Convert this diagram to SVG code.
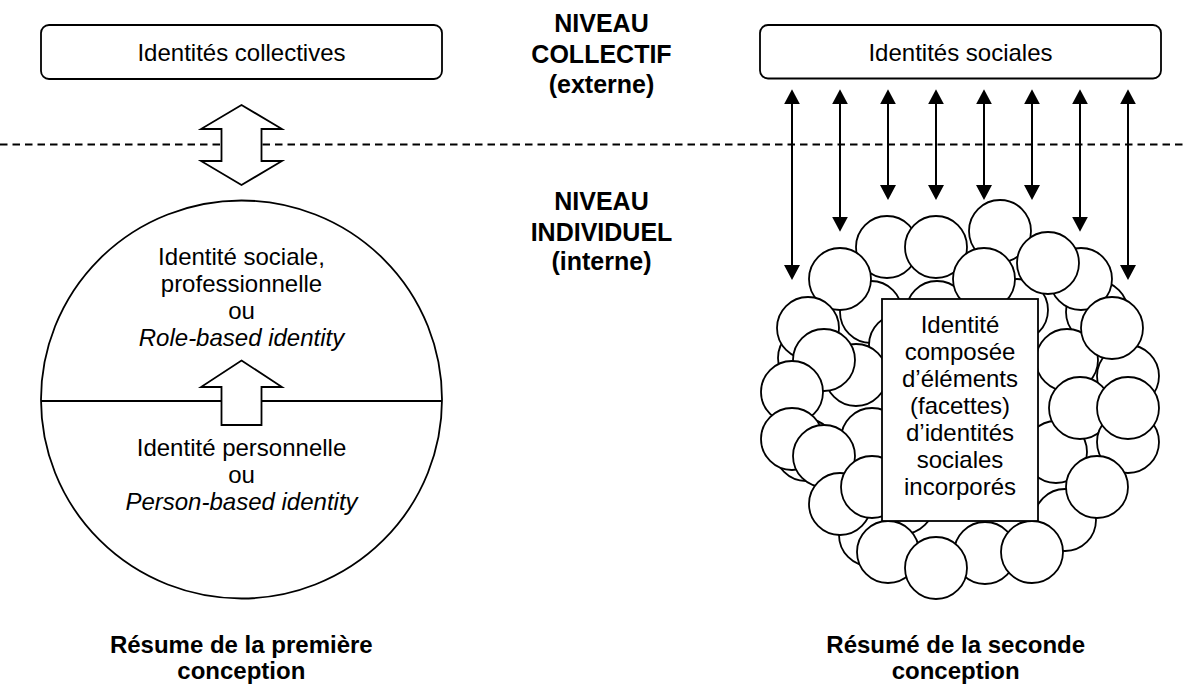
<svg xmlns="http://www.w3.org/2000/svg" width="1186" height="686" viewBox="0 0 1186 686">
<defs>
<style>
.t{font-family:"Liberation Sans",Arial,Helvetica,sans-serif;font-size:24px;fill:#000;text-anchor:middle}
.b{font-weight:bold}
.h{font-size:25px}
.i{font-style:italic}
.box{fill:#fff;stroke:#000;stroke-width:1.8}
.bub{fill:#fff;stroke:#000;stroke-width:1.8}
.ar{stroke:#000;stroke-width:2;fill:none}
.hollow{fill:#fff;stroke:#000;stroke-width:1.8;stroke-linejoin:miter}
.dash{stroke:#000;stroke-width:1.8;stroke-dasharray:7.5 5;fill:none}
</style>
<marker id="ah" viewBox="0 0 15 16" refX="5" refY="8" markerWidth="15" markerHeight="16" markerUnits="userSpaceOnUse" orient="auto-start-reverse"><path d="M0,0L15,8L0,16z" fill="#000"/></marker>
</defs>
<rect width="1186" height="686" fill="#fff"/>

<g id="divider"><line class="dash" x1="0" y1="144.5" x2="1186" y2="144.5"/></g>

<g id="level-labels">
<text class="t b h" x="601.5" y="31.7">NIVEAU</text>
<text class="t b h" x="601.5" y="63">COLLECTIF</text>
<text class="t b h" x="601.5" y="93">(externe)</text>
<text class="t b h" x="601.5" y="210">NIVEAU</text>
<text class="t b h" x="601.5" y="240.5">INDIVIDUEL</text>
<text class="t b h" x="601.5" y="270">(interne)</text>
</g>

<g id="node-collectives">
<rect class="box" x="41" y="25" width="401" height="54" rx="8"/>
<text class="t" x="241.5" y="61">Identités collectives</text>
</g>

<g id="node-sociales">
<rect class="box" x="760" y="25" width="401" height="53.5" rx="8"/>
<text class="t" x="960.5" y="61">Identités sociales</text>
</g>

<g id="node-first-conception">
<ellipse class="box" cx="241.5" cy="399.5" rx="200.5" ry="199"/>
<line x1="41" y1="401" x2="442" y2="401" stroke="#000" stroke-width="1.8"/>
<text class="t" x="241.5" y="265">Identité sociale,</text>
<text class="t" x="241.5" y="292">professionnelle</text>
<text class="t" x="241.5" y="319">ou</text>
<text class="t i" x="241.5" y="346">Role-based identity</text>
<text class="t" x="241.5" y="456">Identité personnelle</text>
<text class="t" x="241.5" y="483">ou</text>
<text class="t i" x="241.5" y="510">Person-based identity</text>
</g>

<g id="node-cluster">
<g id="facets">
<circle class="bub" cx="871" cy="312" r="31"/>
<circle class="bub" cx="937" cy="312" r="31"/>
<circle class="bub" cx="1017" cy="310" r="31"/>
<circle class="bub" cx="1097" cy="312" r="31"/>
<circle class="bub" cx="900" cy="345" r="31"/>
<circle class="bub" cx="809" cy="358" r="31"/>
<circle class="bub" cx="856" cy="375" r="31"/>
<circle class="bub" cx="1067" cy="360" r="31"/>
<circle class="bub" cx="1128" cy="376" r="31"/>
<circle class="bub" cx="903" cy="503" r="31"/>
<circle class="bub" cx="870" cy="535" r="31"/>
<circle class="bub" cx="985" cy="553" r="31"/>
<circle class="bub" cx="806" cy="450" r="31"/>
<circle class="bub" cx="1056" cy="452" r="31"/>
<circle class="bub" cx="1065" cy="520" r="31"/>
<circle class="bub" cx="1081" cy="279" r="31"/>
<circle class="bub" cx="887" cy="247" r="31"/>
<circle class="bub" cx="936" cy="247" r="31"/>
<circle class="bub" cx="1000" cy="231" r="31"/>
<circle class="bub" cx="1048" cy="263" r="31"/>
<circle class="bub" cx="840" cy="279" r="31"/>
<circle class="bub" cx="984" cy="279" r="31"/>
<circle class="bub" cx="1112" cy="328" r="31"/>
<circle class="bub" cx="808" cy="328" r="31"/>
<circle class="bub" cx="824" cy="360" r="31"/>
<circle class="bub" cx="792" cy="392" r="31"/>
<circle class="bub" cx="1080" cy="408" r="31"/>
<circle class="bub" cx="1128" cy="442" r="31"/>
<circle class="bub" cx="1128" cy="408" r="31"/>
<circle class="bub" cx="792" cy="439" r="31"/>
<circle class="bub" cx="872" cy="439" r="31"/>
<circle class="bub" cx="824" cy="456" r="31"/>
<circle class="bub" cx="840" cy="504" r="31"/>
<circle class="bub" cx="872" cy="487" r="31"/>
<circle class="bub" cx="1097" cy="487" r="31"/>
<circle class="bub" cx="888" cy="552" r="31"/>
<circle class="bub" cx="1032" cy="552" r="31"/>
<circle class="bub" cx="936" cy="568" r="31"/>
</g>
<rect class="box" x="882" y="299" width="156" height="222"/>
<text class="t" x="960" y="333">Identité</text>
<text class="t" x="960" y="360">composée</text>
<text class="t" x="960" y="387">d’éléments</text>
<text class="t" x="960" y="414">(facettes)</text>
<text class="t" x="960" y="441">d’identités</text>
<text class="t" x="960" y="468">sociales</text>
<text class="t" x="960" y="495">incorporés</text>
</g>

<g id="connectors">
<polygon class="hollow" points="241.5,105 282,129 261.5,129 261.5,161 282,161 241.5,185 201,161 221.5,161 221.5,129 201,129"/>
<polygon class="hollow" points="241.5,360.5 282,387 261.5,387 261.5,425 221.5,425 221.5,387 201,387"/>
<line class="ar" x1="792" y1="99.3" x2="792" y2="270" marker-start="url(#ah)" marker-end="url(#ah)"/>
<line class="ar" x1="840" y1="99.3" x2="840" y2="221.7" marker-start="url(#ah)" marker-end="url(#ah)"/>
<line class="ar" x1="888" y1="99.3" x2="888" y2="190" marker-start="url(#ah)" marker-end="url(#ah)"/>
<line class="ar" x1="936" y1="99.3" x2="936" y2="190" marker-start="url(#ah)" marker-end="url(#ah)"/>
<line class="ar" x1="984" y1="99.3" x2="984" y2="190" marker-start="url(#ah)" marker-end="url(#ah)"/>
<line class="ar" x1="1032" y1="99.3" x2="1032" y2="190" marker-start="url(#ah)" marker-end="url(#ah)"/>
<line class="ar" x1="1080" y1="99.3" x2="1080" y2="221.7" marker-start="url(#ah)" marker-end="url(#ah)"/>
<line class="ar" x1="1128" y1="99.3" x2="1128" y2="270" marker-start="url(#ah)" marker-end="url(#ah)"/>
</g>

<g id="captions">
<text class="t b" x="241.3" y="653">Résume de la première</text>
<text class="t b" x="241.3" y="679">conception</text>
<text class="t b" x="955.7" y="652.5">Résumé de la seconde</text>
<text class="t b" x="955.7" y="678.5">conception</text>
</g>
</svg>
